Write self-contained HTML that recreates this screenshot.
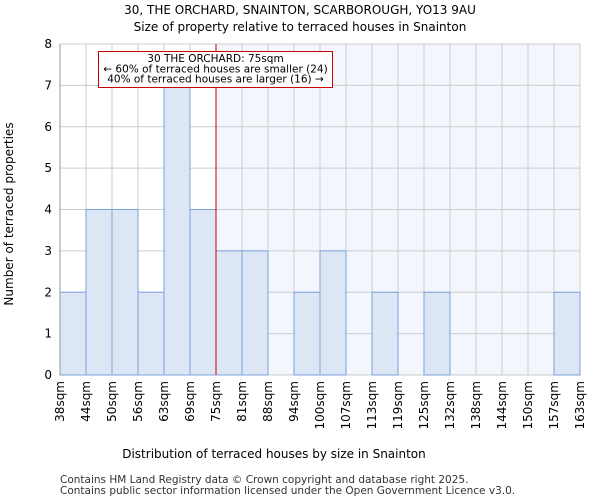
<!DOCTYPE html>
<html><head><meta charset="utf-8"><style>
body{margin:0;background:#fff;font-family:"DejaVu Sans","Liberation Sans",sans-serif;}
</style></head><body>
<svg width="600" height="500" font-family="DejaVu Sans, Liberation Sans, sans-serif">
<text x="300" y="14" text-anchor="middle" font-size="12">30, THE ORCHARD, SNAINTON, SCARBOROUGH, YO13 9AU</text>
<text x="300" y="31" text-anchor="middle" font-size="12">Size of property relative to terraced houses in Snainton</text>
<g id="plot"></g>
<text x="274" y="458" text-anchor="middle" font-size="12">Distribution of terraced houses by size in Snainton</text>
<text transform="translate(13,214) rotate(-90)" text-anchor="middle" font-size="12">Number of terraced properties</text>
<text x="60" y="483" font-size="10.5" fill="#333">Contains HM Land Registry data © Crown copyright and database right 2025.</text>
<text x="60" y="494" font-size="10.5" fill="#333">Contains public sector information licensed under the Open Government Licence v3.0.</text>
</svg>
<script>
const categories=["38sqm","44sqm","50sqm","56sqm","63sqm","69sqm","75sqm","81sqm","88sqm","94sqm","100sqm","107sqm","113sqm","119sqm","125sqm","132sqm","138sqm","144sqm","150sqm","157sqm","163sqm"];
const counts=[2,4,4,2,7,4,3,3,0,2,3,0,2,0,2,0,0,0,0,2];
const yTicks=[0,1,2,3,4,5,6,7,8];
const markerIndex=6;
const NS="http://www.w3.org/2000/svg";
const g=document.getElementById('plot');
const L=60,R=580,T=44,B=375,yMax=8;
const bw=(R-L)/counts.length;
const x=i=>L+i*bw;
const y=v=>B-(v/yMax)*(B-T);
function mk(t,a){const e=document.createElementNS(NS,t);for(const k in a)e.setAttribute(k,a[k]);g.appendChild(e);return e;}
const bg=mk('rect',{x:x(markerIndex),y:T,width:R-x(markerIndex),height:B-T,fill:'#f3f6fd'});


for(let i=0;i<=counts.length;i++){mk('line',{x1:x(i),x2:x(i),y1:T,y2:B,stroke:'#cccccc','stroke-width':1});}
yTicks.forEach(v=>{mk('line',{x1:L,x2:R,y1:y(v),y2:y(v),stroke:'#cccccc','stroke-width':1});
const t=mk('text',{x:L-8,y:y(v)+4,'text-anchor':'end','font-size':12});t.textContent=v;

});
counts.forEach((c,i)=>{if(c<=0)return;
const r=mk('rect',{x:x(i),y:y(c),width:bw,height:B-y(c),fill:'#dce6f5',stroke:'#7aa2dc','stroke-width':1});

});
categories.forEach((c,i)=>{const tx=x(i),ty=B+6;
const t=mk('text',{transform:`translate(${tx+4},${ty}) rotate(-90)`,'text-anchor':'end','font-size':12});t.textContent=c;

});
mk('line',{x1:L,x2:L,y1:T,y2:B,stroke:'#999'});
const ml=mk('line',{x1:x(markerIndex),x2:x(markerIndex),y1:T,y2:B,stroke:'#cc0000','stroke-width':1});


const box=mk('rect',{x:98.5,y:51.5,width:234,height:36,fill:'#fff',stroke:'#cc0000','stroke-width':1});


["30 THE ORCHARD: 75sqm","← 60% of terraced houses are smaller (24)","40% of terraced houses are larger (16) →"].forEach((s,k)=>{
const t=mk('text',{x:215.5,y:62+k*10.3,'text-anchor':'middle','font-size':10.5});t.textContent=s;

});
</script>
</body></html>
